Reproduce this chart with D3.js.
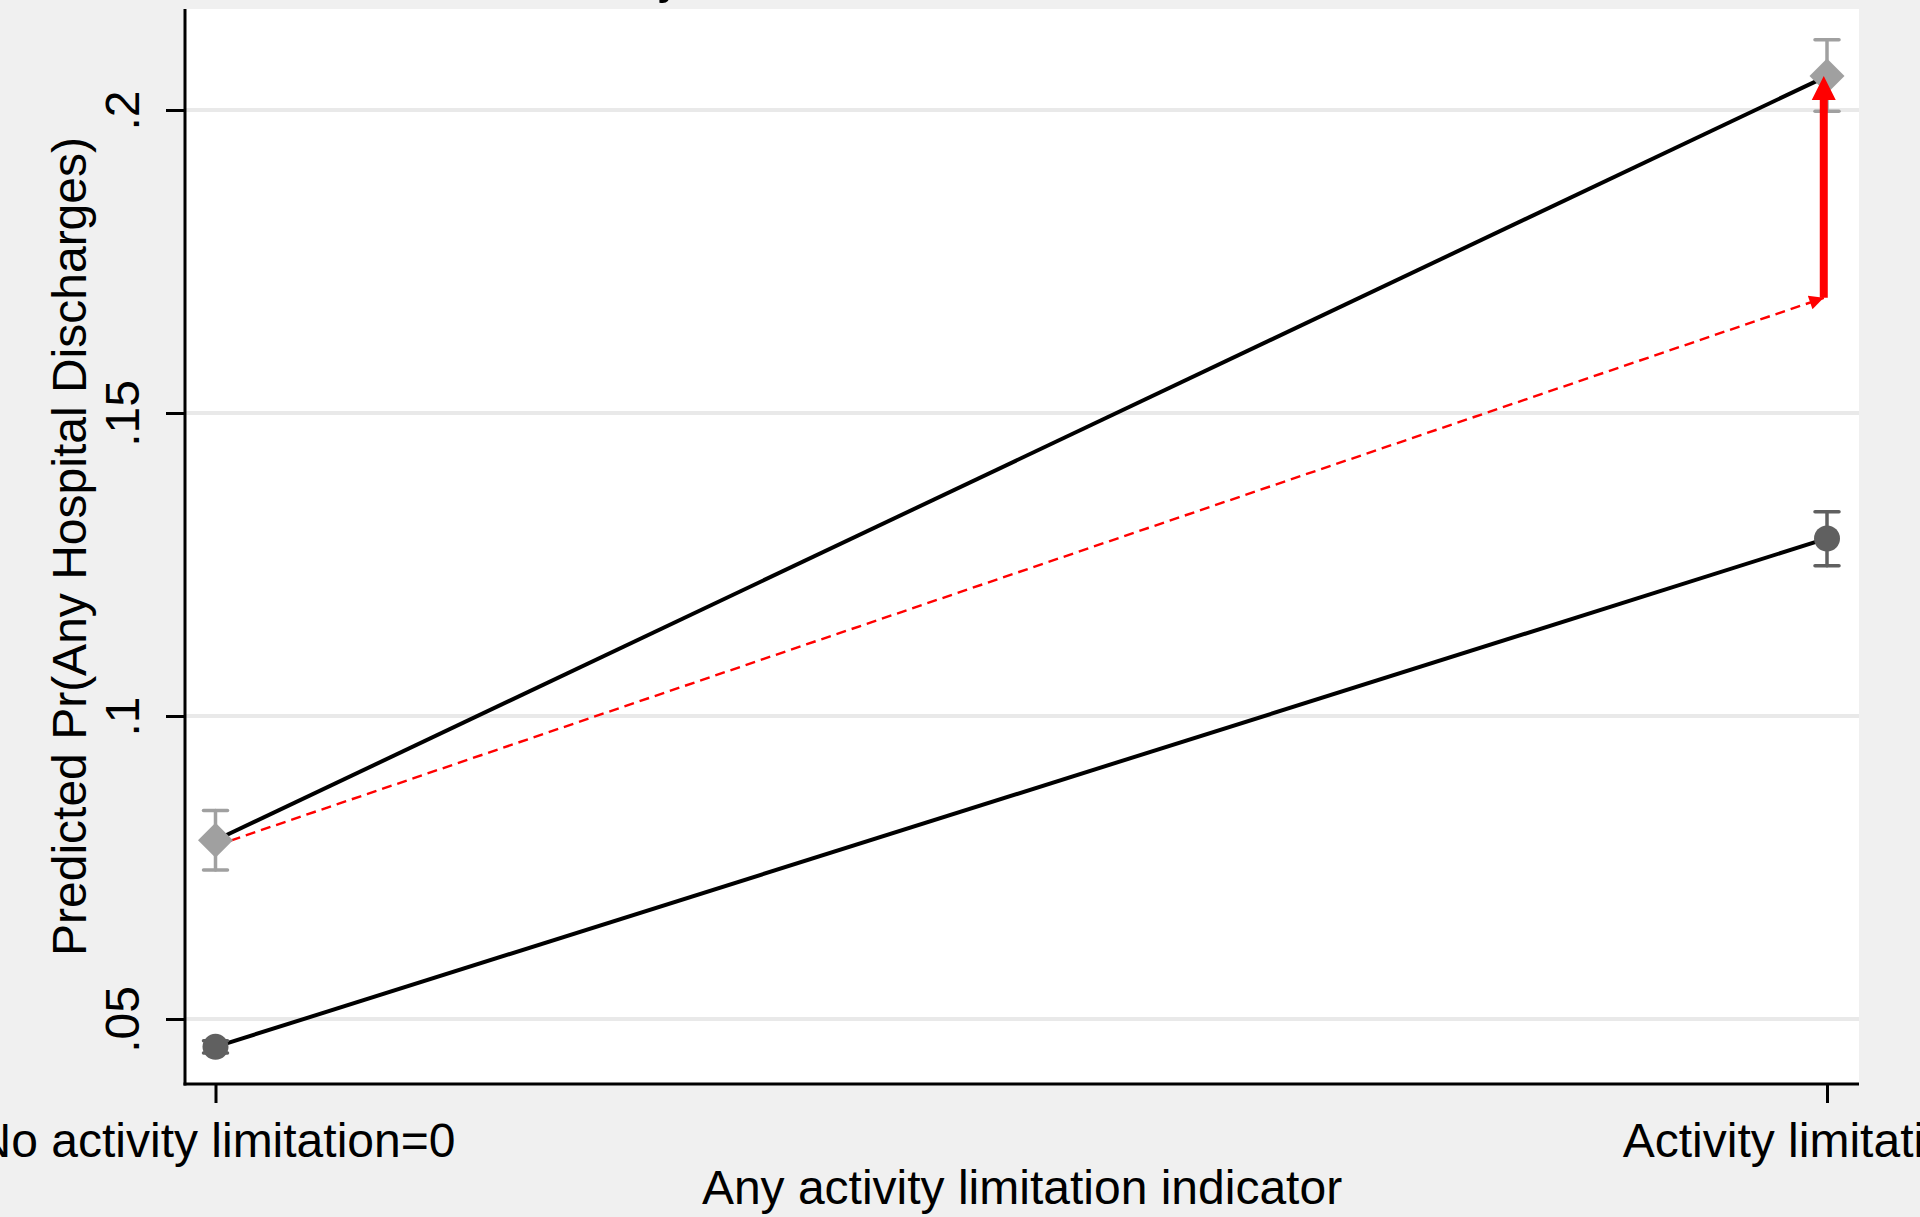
<!DOCTYPE html>
<html>
<head>
<meta charset="utf-8">
<script src="https://cdn.jsdelivr.net/npm/d3@7"></script>
<style>
  html, body { margin: 0; padding: 0; background: #f0f0f0; }
  svg { display: block; }
  text { font-family: "Liberation Sans", Arial, Helvetica, sans-serif; fill: #000; }
</style>
</head>
<body>
<svg id="chart" width="1920" height="1217"></svg>
<script>
// ---------------- data ----------------
const categories = ["No activity limitation=0", "Activity limitation=1"];
const xValues = [0, 1];
const yTickValues = [0.05, 0.1, 0.15, 0.2];
const yTickLabels = [".05", ".1", ".15", ".2"];

// dark circles (lower series)
const lowMean = [0.0454, 0.1293];
const lowLo   = [0.0444, 0.1248];
const lowHi   = [0.0464, 0.1337];

// light diamonds (upper series)
const highMean = [0.0795, 0.2056];
const highLo   = [0.0746, 0.1998];
const highHi   = [0.0844, 0.2116];

// counterfactual dashed arrow and the red gap arrow
const cfX = [0, 0.998];
const cfY = [0.0786, 0.1690];
const gapX = 0.998;
const gapFrom = 0.1690;
const gapTo = 0.2056;

const titleText = "Adjusted Predictions with 95% CIs";
const xTitle = "Any activity limitation indicator";
const yTitle = "Predicted Pr(Any Hospital Discharges)";

// ---------------- layout ----------------
const plot = { left: 185, right: 1859, top: 9, bottom: 1084 };
const svg = d3.select("#chart");

const x = d3.scaleLinear().domain([0, 1]).range([215.5, 1827]);
const y = d3.scaleLinear().domain([0.03927, 0.21667]).range([plot.bottom, plot.top]);

// backgrounds
svg.append("rect").attr("x", 0).attr("y", 0).attr("width", 1920).attr("height", 1217).attr("fill", "#f0f0f0");
svg.append("rect").attr("x", plot.left).attr("y", plot.top)
  .attr("width", plot.right - plot.left).attr("height", plot.bottom - plot.top).attr("fill", "#ffffff");

// gridlines
svg.append("g").selectAll("line").data(yTickValues).join("line")
  .attr("x1", plot.left).attr("x2", plot.right)
  .attr("y1", d => y(d)).attr("y2", d => y(d))
  .attr("stroke", "#e9e9e9").attr("stroke-width", 4);

// title (mostly outside the picture, as in the reference)
svg.append("text").attr("x", (plot.left + plot.right) / 2).attr("y", -9)
  .attr("text-anchor", "middle").attr("font-size", 56.5).text(titleText);

// connecting lines
const line = d3.line().x(d => x(d[0])).y(d => y(d[1]));
svg.append("path").datum(xValues.map((v, i) => [v, highMean[i]]))
  .attr("d", line).attr("fill", "none").attr("stroke", "#000").attr("stroke-width", 4);
svg.append("path").datum(xValues.map((v, i) => [v, lowMean[i]]))
  .attr("d", line).attr("fill", "none").attr("stroke", "#000").attr("stroke-width", 4);

// dashed counterfactual with small arrowhead
const defs = svg.append("defs");
defs.append("marker").attr("id", "smallHead").attr("viewBox", "0 0 10 10")
  .attr("refX", 10).attr("refY", 5).attr("markerWidth", 8).attr("markerHeight", 6)
  .attr("markerUnits", "strokeWidth").attr("orient", "auto")
  .append("path").attr("d", "M0,0 L10,5 L0,10 Z").attr("fill", "#ff0000");

svg.append("path").datum(cfX.map((v, i) => [v, cfY[i]]))
  .attr("d", line).attr("fill", "none").attr("stroke", "#ff0000").attr("stroke-width", 2.4)
  .attr("stroke-dasharray", "10,6").attr("marker-end", "url(#smallHead)");

// error bars
function errorBars(lo, hi, color) {
  const g = svg.append("g").attr("stroke", color).attr("stroke-width", 3.5).attr("stroke-linecap", "round");
  xValues.forEach((v, i) => {
    g.append("line").attr("x1", x(v)).attr("x2", x(v)).attr("y1", y(lo[i])).attr("y2", y(hi[i]));
    g.append("line").attr("x1", x(v) - 12).attr("x2", x(v) + 12).attr("y1", y(lo[i])).attr("y2", y(lo[i]));
    g.append("line").attr("x1", x(v) - 12).attr("x2", x(v) + 12).attr("y1", y(hi[i])).attr("y2", y(hi[i]));
  });
}
errorBars(highLo, highHi, "#a0a0a0");
errorBars(lowLo, lowHi, "#606060");

// markers
svg.append("g").selectAll("path").data(xValues).join("path")
  .attr("transform", (d, i) => `translate(${x(d)},${y(highMean[i])})`)
  .attr("d", "M0,-17.5 L17.5,0 L0,17.5 L-17.5,0 Z").attr("fill", "#a0a0a0");
svg.append("g").selectAll("circle").data(xValues).join("circle")
  .attr("cx", d => x(d)).attr("cy", (d, i) => y(lowMean[i])).attr("r", 13).attr("fill", "#606060");

// thick red arrow
const gx = x(gapX), gy0 = y(gapFrom), gy1 = y(gapTo);
svg.append("line").attr("x1", gx).attr("x2", gx).attr("y1", gy0).attr("y2", gy1 + 22)
  .attr("stroke", "#ff0000").attr("stroke-width", 8);
svg.append("path")
  .attr("d", `M${gx},${gy1} L${gx + 12},${gy1 + 24} L${gx - 12},${gy1 + 24} Z`)
  .attr("fill", "#ff0000");

// axes
const yAxis = d3.axisLeft(y).tickValues(yTickValues).tickSize(19)
  .tickFormat((d, i) => yTickLabels[i]);
const gy = svg.append("g").attr("transform", `translate(${plot.left},0)`).call(yAxis);
gy.select(".domain").remove();
gy.selectAll(".tick line").attr("stroke", "#000").attr("stroke-width", 3);
gy.selectAll(".tick text")
  .attr("font-family", "Liberation Sans, Arial, sans-serif").attr("font-size", 48)
  .attr("fill", "#000")
  .attr("x", 0).attr("y", 0).attr("dy", null)
  .attr("text-anchor", "middle")
  .attr("transform", "translate(-46,0) rotate(-90)");

const xAxis = d3.axisBottom(x).tickValues(xValues).tickSize(19)
  .tickFormat((d, i) => categories[i]);
const gxAxis = svg.append("g").attr("transform", `translate(0,${plot.bottom})`).call(xAxis);
gxAxis.select(".domain").remove();
gxAxis.selectAll(".tick line").attr("stroke", "#000").attr("stroke-width", 3);
gxAxis.selectAll(".tick text")
  .attr("font-family", "Liberation Sans, Arial, sans-serif").attr("font-size", 48)
  .attr("fill", "#000").attr("dy", null).attr("y", 73);

// axis lines
svg.append("line").attr("x1", plot.left).attr("x2", plot.left).attr("y1", plot.top).attr("y2", plot.bottom + 1.5)
  .attr("stroke", "#000").attr("stroke-width", 3);
svg.append("line").attr("x1", plot.left - 1.5).attr("x2", plot.right).attr("y1", plot.bottom).attr("y2", plot.bottom)
  .attr("stroke", "#000").attr("stroke-width", 3);

// axis titles
svg.append("text").attr("x", (plot.left + plot.right) / 2).attr("y", 1204)
  .attr("text-anchor", "middle").attr("font-size", 48).text(xTitle);
svg.append("text").attr("transform", `translate(86,${(plot.top + plot.bottom) / 2}) rotate(-90)`)
  .attr("text-anchor", "middle").attr("font-size", 48).text(yTitle);
</script>
</body>
</html>
